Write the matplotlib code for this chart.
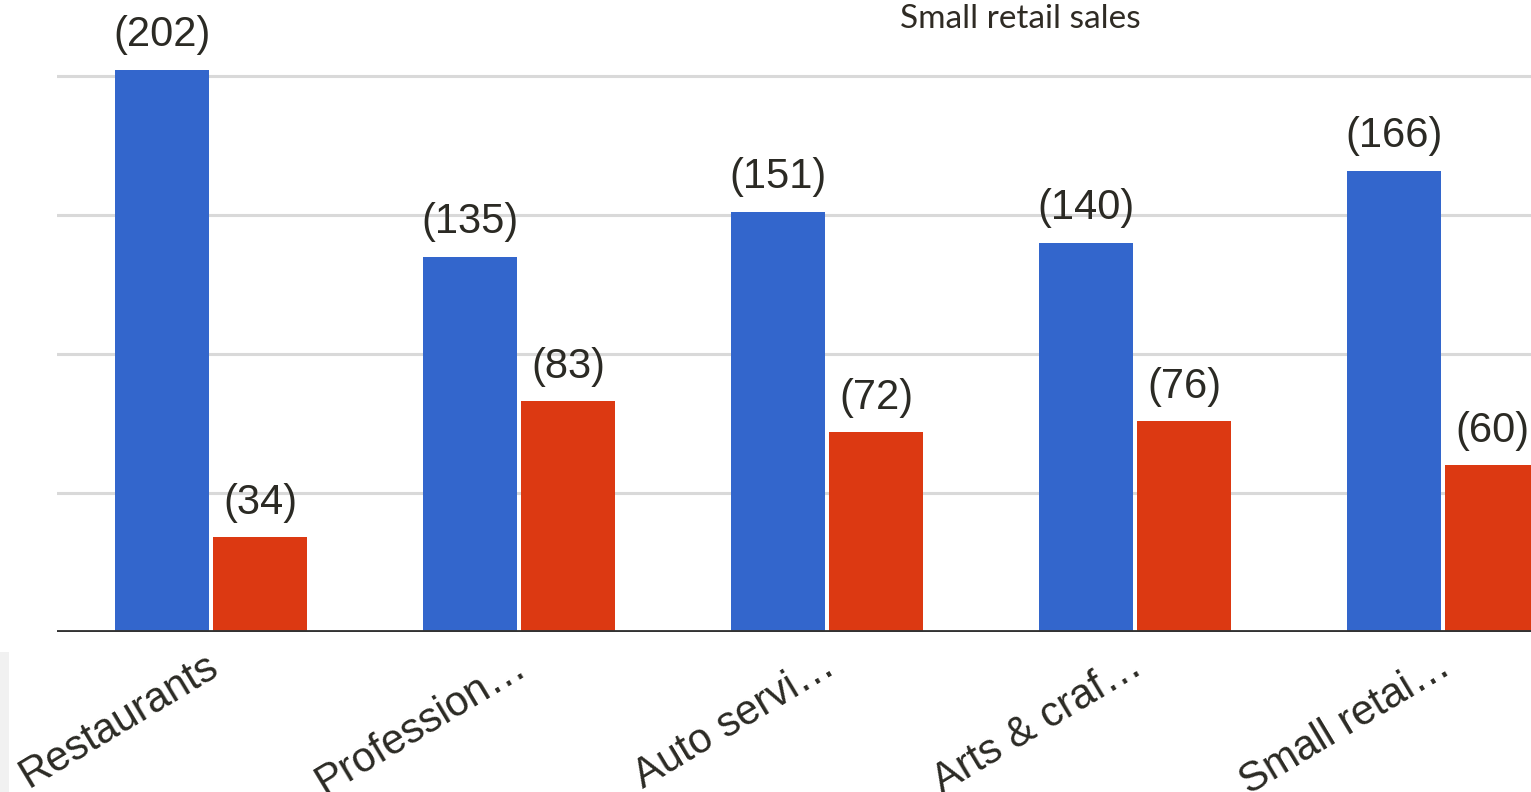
import matplotlib
matplotlib.use("Agg")
import matplotlib.pyplot as plt
from matplotlib.patches import Rectangle
import matplotlib.transforms as mtransforms
import numpy as np

categories = ["Restaurants", "Profession…", "Auto servi…", "Arts & craf…", "Small retai…"]
series_a = [202, 135, 151, 140, 166]
series_b = [34, 83, 72, 76, 60]
title = "Small retail sales"

W, H = 1531, 792
fig = plt.figure(figsize=(W / 100, H / 100), dpi=100)
fig.patch.set_facecolor("white")

# faint gray panel edge at bottom-left
fig.patches.append(Rectangle((0, 0), 9 / W, (H - 652) / H, transform=fig.transFigure,
                             facecolor="#f1f1f1", edgecolor="none", zorder=0))

left = 57 / W
bottom = (H - 632) / H
ax = fig.add_axes([left, bottom, 1 - left, 1 - bottom])
ax.patch.set_alpha(0)

px_per_unit = 139 / 50.0
ymax = 632 / px_per_unit
ax.set_ylim(0, ymax)
group_px = 308
ax.set_xlim(-0.5, (W - 57) / group_px - 0.5)

x = np.arange(len(categories))
bw = 94 / group_px
off = 49 / group_px
blue = "#3366cc"
red = "#dc3912"
ax.bar(x - off, series_a, width=bw, color=blue, zorder=3, edgecolor="none")
ax.bar(x + off, series_b, width=bw, color=red, zorder=3, edgecolor="none")

lbl_color = "#2b2a24"
for xi, v in zip(x, series_a):
    ax.annotate(f"({v})", (xi - off, v), xytext=(0, 24), textcoords="offset pixels",
                ha="center", va="baseline", fontsize=30, family="Liberation Sans",
                color=lbl_color, zorder=4)
for xi, v in zip(x, series_b):
    ax.annotate(f"({v})", (xi + off, v), xytext=(0, 23), textcoords="offset pixels",
                ha="center", va="baseline", fontsize=30, family="Liberation Sans",
                color=lbl_color, zorder=4, annotation_clip=False)

for g in [50, 100, 150, 200]:
    ax.axhline(g, color="#d9d9d9", lw=2.2, zorder=1)
ax.axhline(0, color="#333333", lw=3.5, zorder=5)

for s in ax.spines.values():
    s.set_visible(False)
ax.set_yticks([])
ax.set_xticks(x)
ax.set_xticklabels(categories, rotation=31, ha="right", rotation_mode="anchor",
                   fontsize=30, family="Liberation Sans", color=lbl_color)
ax.tick_params(axis="x", length=0, pad=10)
shift = mtransforms.ScaledTranslation(-6 / 100, 0, fig.dpi_scale_trans)
for lab in ax.get_xticklabels():
    lab.set_transform(lab.get_transform() + shift)

fig.text(1020 / W, 1 - 19 / H, title, ha="center", va="center", fontsize=24,
         family="Lato", color="#2f2b24")

fig.savefig("out.png", dpi=100, facecolor="white")
